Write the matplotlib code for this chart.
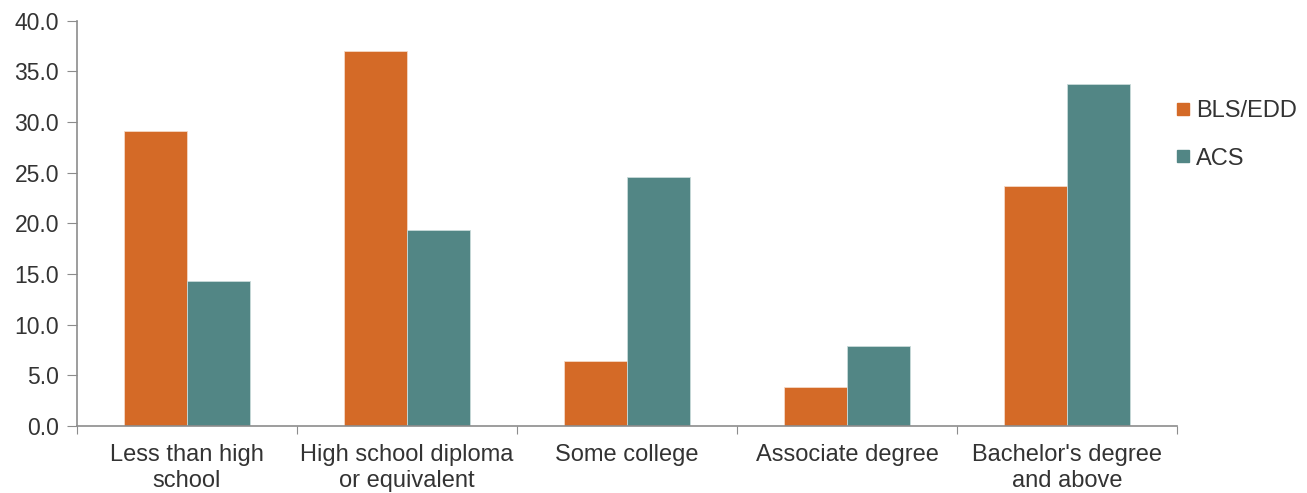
import numpy as np
from matplotlib import pyplot as plt
from matplotlib.lines import Line2D

plt.rcParams['font.family'] = ['Liberation Sans', 'DejaVu Sans']

# Share of workers by education level
categories = ["Less than high\nschool", "High school diploma\nor equivalent",
              "Some college", "Associate degree", "Bachelor's degree\nand above"]
bls_edd = [29.1, 37.0, 6.4, 3.8, 23.7]
acs = [14.3, 19.3, 24.6, 7.9, 33.8]
series_names = ["BLS/EDD", "ACS"]

orange = '#D46A27'
teal = '#528685'
grey = '#8C8C8C'
text_col = '#333333'

fig = plt.figure(figsize=(13.07, 4.93), dpi=100)
ax = fig.add_axes([0.0589, 0.136, 0.8416, 0.822])

x = np.arange(len(categories))
w = 0.285
ax.bar(x - w/2, bls_edd, w, color=orange, edgecolor='#f4d9c6', linewidth=0.6)
ax.bar(x + w/2, acs, w, color=teal, edgecolor='#c9dad9', linewidth=0.6)

ax.set_xlim(-0.5, len(categories) - 0.5)
ax.set_ylim(0, 40)
ax.set_yticks(np.arange(0, 41, 5))
ax.set_yticklabels([f"{v:.1f}" for v in np.arange(0, 41, 5)])

# category ticks sit on the boundaries, labels centered under each group
ax.set_xticks(np.arange(-0.5, len(categories), 1.0))
ax.set_xticklabels([])
ax.set_xticks(x, minor=True)
ax.set_xticklabels(categories, minor=True)
ax.tick_params(axis='x', which='minor', length=0, pad=13, labelsize=17)
ax.tick_params(axis='x', which='major', length=6, color=grey, direction='out')
ax.tick_params(axis='y', length=7, color=grey, pad=6, labelsize=16.5)
ax.tick_params(which='both', labelcolor=text_col)
for lbl in ax.get_xticklabels(minor=True):
    lbl.set_linespacing(1.24)

for s in ['top', 'right']:
    ax.spines[s].set_visible(False)
for s in ['left', 'bottom']:
    ax.spines[s].set_color(grey)
    ax.spines[s].set_linewidth(1.2)

handles = [Line2D([], [], marker='s', linestyle='none', markersize=9,
                  markerfacecolor=c, markeredgecolor=c) for c in (orange, teal)]
leg = fig.legend(handles, series_names, loc='upper left',
                 bbox_to_anchor=(0.896, 0.797), frameon=False, fontsize=17,
                 borderpad=0, borderaxespad=0,
                 handletextpad=0.05, labelspacing=1.08, handlelength=1.0)
for t in leg.get_texts():
    t.set_color(text_col)

fig.savefig('out.png', dpi=100)
